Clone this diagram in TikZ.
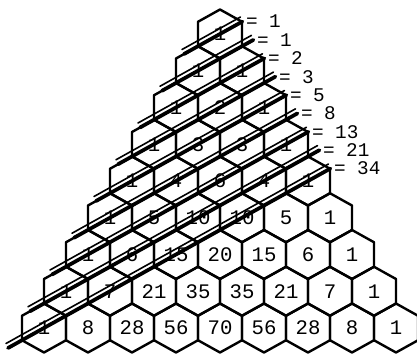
\documentclass[tikz,border=0pt]{standalone}
\usepackage{fontspec}
\newfontfamily\cellfont{Liberation Mono}
\usetikzlibrary{calc}
\pgfdeclarelayer{bg}
\pgfsetlayers{bg,main}

\begin{document}
\begin{tikzpicture}[x=0.75pt, y=-0.75pt,
                    cell/.style={inner sep=0pt, font=\cellfont\fontsize{15.5}{15.5}\selectfont},
                    hexline/.style={line width=1.8pt, line join=round},
                    diag/.style={line width=2.8pt, line cap=round},
                    diag shade/.style={line width=1.2pt, line cap=round},
                    sum label/.style={anchor=west, inner sep=2.5pt, font=\cellfont\fontsize{14.5}{14.5}\selectfont}]

    \useasboundingbox (0,0) rectangle (417,354);

    % the triangle of hexagons
    \foreach \m/\vals in {0/{1}, 1/{1,1}, 2/{1,2,1}, 3/{1,3,3,1}, 4/{1,4,6,4,1},
                          5/{1,5,10,10,5,1}, 6/{1,6,15,20,15,6,1},
                          7/{1,7,21,35,35,21,7,1}, 8/{1,8,28,56,70,56,28,8,1}} {
        \foreach \v [count=\k from 0] in \vals {
            \node[cell] (c-\m-\k) at ({220+(\k-\m/2)*44}, {34+\m*36.75}) {\v};
            \begin{pgfonlayer}{bg}
                \draw[hexline] (c-\m-\k) +(0,-24.5) -- +(22,-12.25) -- +(22,12.25)
                               -- +(0,24.5) -- +(-22,12.25) -- +(-22,-12.25) -- cycle;
            \end{pgfonlayer}
        }
    }

    % shallow diagonals and their sums
    \foreach \n/\f in {0/1, 1/1, 2/2, 3/3, 4/5, 5/8, 6/13, 7/21, 8/34} {
        \coordinate (s-\n) at ($(c-\n-0)+(-36,20)$);
        \coordinate (e-\n) at ($(c-\n-0)+({(\n/2+0.34)*66},{-(\n/2+0.34)*36.75})$);
        \begin{pgfonlayer}{bg}
            \draw[diag] (s-\n) -- (e-\n);
            \draw[diag shade] ([shift={(-2,-4.5)}]s-\n) -- ([shift={(-2,-4.5)}]e-\n);
        \end{pgfonlayer}
        \node[sum label] (f-\n) at (e-\n) {= \f};
    }

\end{tikzpicture}
\end{document}
